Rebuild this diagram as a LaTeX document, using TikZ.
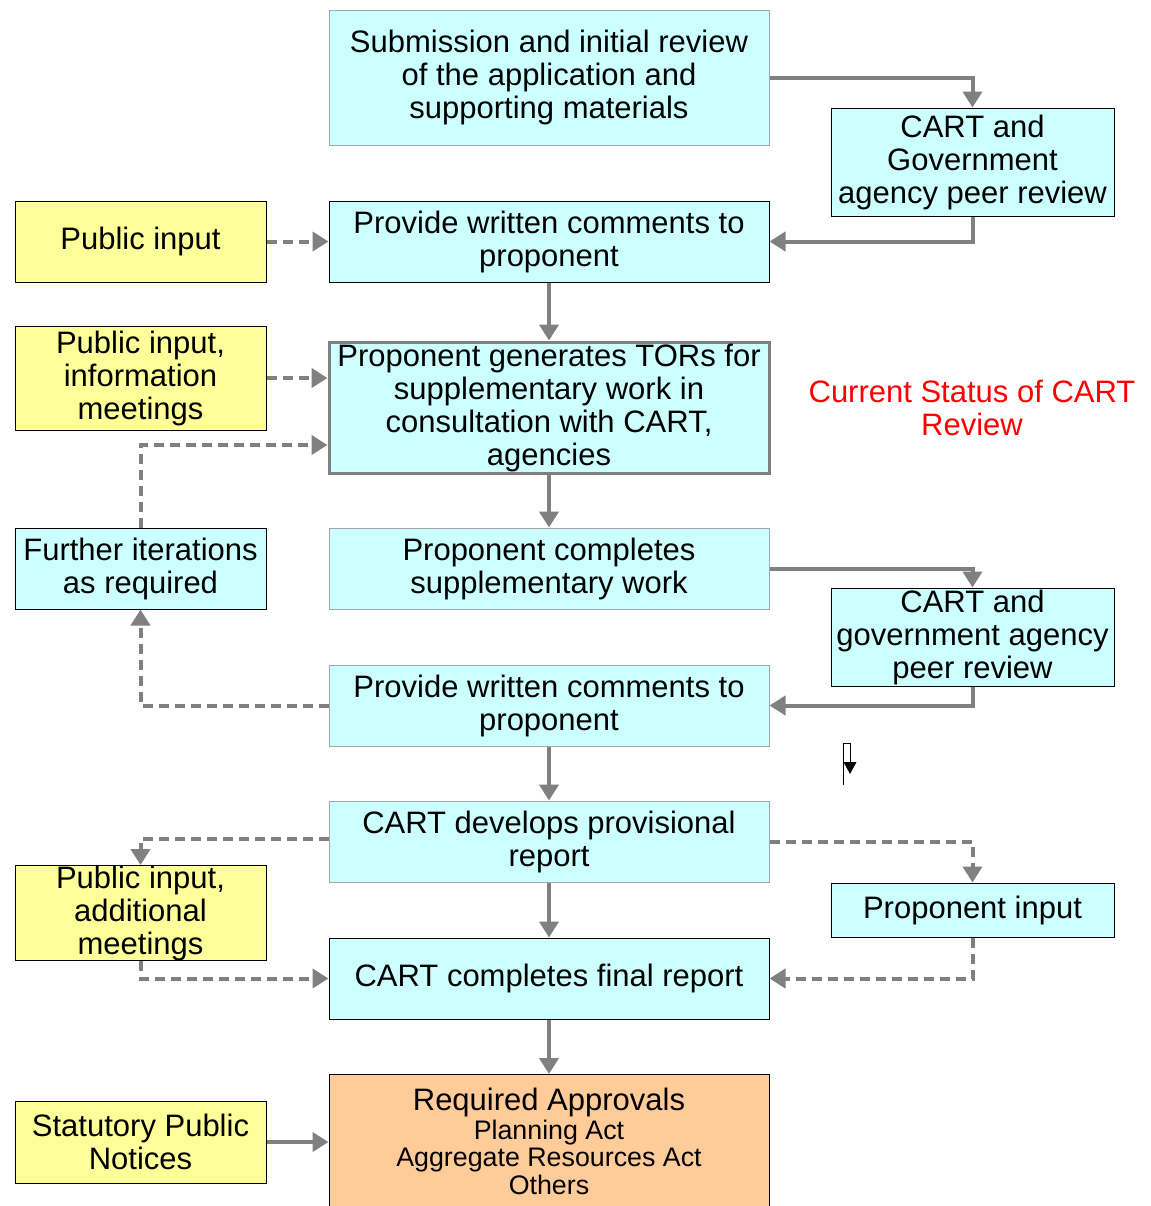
\documentclass[tikz,border=0pt]{standalone}
\usepackage{fontspec}
\setmainfont{Liberation Sans}
\usetikzlibrary{arrows.meta}
\definecolor{cyanfill}{HTML}{CCFFFF}
\definecolor{yelfill}{HTML}{FFFF99}
\definecolor{orafill}{HTML}{FFCC99}
\definecolor{linegray}{HTML}{808080}
\definecolor{lightborder}{HTML}{A6A6A6}
\begin{document}
\begin{tikzpicture}[x=0.5pt,y=-0.5pt,
  basebox/.style={draw=black, line width=0.5pt, align=center, inner sep=0pt,
    font=\fontsize{15.5}{16.5}\selectfont},
  cbox/.style={basebox, fill=cyanfill},
  lbox/.style={cbox, draw=lightborder},
  ybox/.style={basebox, fill=yelfill},
  wide/.style={minimum width=220pt, minimum height=40.5pt},
  side/.style={minimum width=125.5pt},
  rside/.style={minimum width=141.5pt},
  arr/.style={draw=linegray, line width=2pt, -{Triangle[length=8pt,width=9.5pt]}},
  darr/.style={arr, dash pattern=on 5pt off 3pt}
]
\useasboundingbox (0,0) rectangle (1151,1206);

\node[lbox, minimum width=220pt, minimum height=67.5pt] (sub) at (549,77.5)
  {Submission and initial review\\of the application and\\supporting materials};
\node[cbox, rside, minimum height=54pt] (cg1) at (972.5,162)
  {CART and\\Government\\agency peer review};
\node[ybox, side, minimum height=40.5pt] (pub1) at (140.5,241.5) {Public input};
\node[cbox, wide] (prov1) at (549,241.5) {Provide written comments to\\proponent};
\node[ybox, side, minimum height=52pt] (pub2) at (140.5,378)
  {Public input,\\information\\meetings};
\node[cbox, draw=linegray, line width=1.5pt, minimum width=220pt, minimum height=65.5pt] (tor) at (549,407.5)
  {Proponent generates TORs for\\supplementary work in\\consultation with CART,\\agencies};
\node[align=center, text=red, inner sep=0pt, font=\fontsize{15.5}{16.5}\selectfont] (status) at (972,408)
  {Current Status of CART\\Review};
\node[cbox, side, minimum height=40.5pt] (fur) at (140.5,568.5) {Further iterations\\as required};
\node[lbox, wide] (pcomp) at (549,568.5) {Proponent completes\\supplementary work};
\node[cbox, rside, minimum height=49pt] (cg2) at (972.5,637)
  {CART and\\government agency\\peer review};
\node[lbox, wide] (prov2) at (549,705.5) {Provide written comments to\\proponent};
\node[lbox, wide] (dev) at (549,841.5) {CART develops provisional\\report};
\node[cbox, rside, minimum height=27pt] (pin) at (972.5,910) {Proponent input};
\node[ybox, side, minimum height=46pt] (pub3) at (140.5,913)
  {Public input,\\additional\\meetings};
\node[cbox, wide] (fin) at (549,978.5) {CART completes final report};
\node[basebox, fill=orafill, minimum width=220pt, minimum height=67pt, anchor=north,
      font=\fontsize{13.4}{13.8}\selectfont] (req) at (549,1074)
  {{\fontsize{15.5}{16.5}\selectfont Required Approvals}\\[0.5pt]
   Planning Act\\
   Aggregate Resources Act\\
   Others};
\node[ybox, side, minimum height=41pt] (stat) at (140.5,1142) {Statutory Public\\Notices};

% connectors
\draw[arr] (sub.east) -| (cg1.north);
\draw[arr] (cg1.south) |- (prov1.east);
\draw[darr] (pub1.east) -- (prov1.west);
\draw[arr] (prov1.south) -- (tor.north);
\draw[darr] (pub2.east) -- (pub2.east -| tor.west);
\draw[darr] (fur.north) |- ([yshift=-18.75pt]tor.west);
\draw[arr] (tor.south) -- (pcomp.north);
\draw[arr] (pcomp.east) -| (cg2.north);
\draw[arr] (cg2.south) |- (prov2.east);
\draw[darr] (prov2.west) -| (fur.south);
\draw[arr] (prov2.south) -- (dev.north);
\draw[darr] ([yshift=1.25pt]dev.west) -| (pub3.north);
\draw[darr] (dev.east) -| (pin.north);
\draw[arr] (dev.south) -- (fin.north);
\draw[darr] (pub3.south) |- (fin.west);
\draw[darr] (pin.south) |- (fin.east);
\draw[arr] (fin.south) -- (req.north);
\draw[arr] (stat.east) -- (stat.east -| req.west);

% small stray arrow mark
\draw[line width=0.5pt] (843,743) rectangle (850.5,762);
\draw[line width=0.5pt] (843,743) -- (843,785);
\fill (843.5,762) -- (856.5,762) -- (850,774) -- cycle;
\end{tikzpicture}
\end{document}
